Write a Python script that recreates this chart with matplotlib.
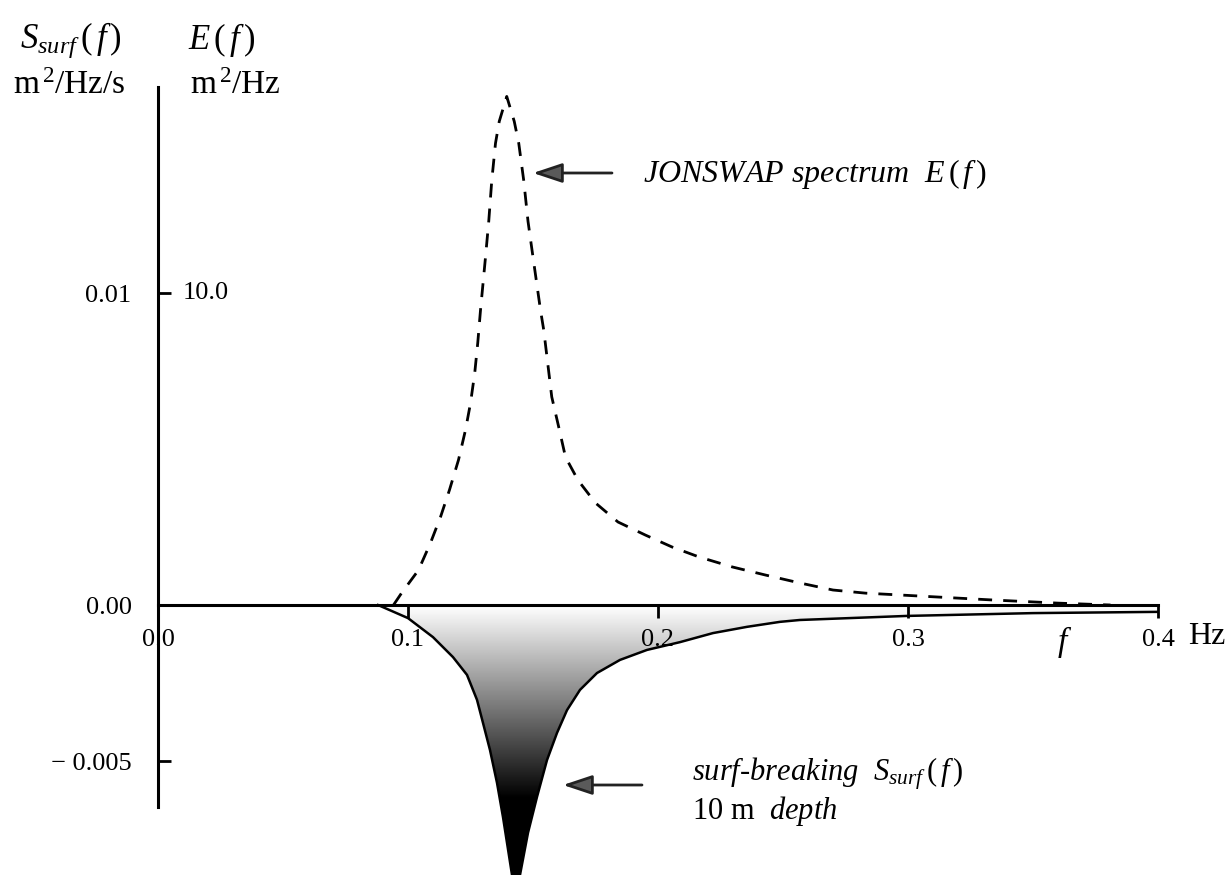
import numpy as np
import matplotlib.pyplot as plt
from matplotlib.patches import Polygon

plt.rcParams['font.family'] = ['Liberation Serif', 'DejaVu Serif']
plt.rcParams['mathtext.fontset'] = 'custom'
plt.rcParams['mathtext.rm'] = 'Liberation Serif'
plt.rcParams['mathtext.it'] = 'Liberation Serif:italic'

# JONSWAP spectrum E(f) in m^2/Hz
f_jon = [0.0942, 0.0974, 0.1042, 0.109, 0.113, 0.1166, 0.1202, 0.123, 0.125,
         0.1267, 0.1279, 0.129, 0.131, 0.1323, 0.1335, 0.135, 0.1365, 0.1395,
         0.1425, 0.1443, 0.1463, 0.148, 0.150, 0.153, 0.1543, 0.1575, 0.1603,
         0.163, 0.168, 0.175, 0.184, 0.195, 0.2056, 0.2164, 0.2297, 0.243,
         0.2565, 0.27, 0.283, 0.297, 0.334, 0.36, 0.381]
E_jon = [0.0, 0.38, 1.12, 1.99, 2.82, 3.69, 4.65, 5.61, 6.47,
         7.44, 8.40, 9.45, 11.15, 12.3, 13.6, 14.8, 15.5, 16.3,
         15.5, 14.8, 13.6, 12.3, 11.15, 9.45, 8.81, 6.67, 5.7,
         4.74, 4.0, 3.27, 2.66, 2.24, 1.86, 1.54, 1.22, 0.96,
         0.71, 0.48, 0.38, 0.32, 0.16, 0.06, 0.0]

# surf-breaking source term S_surf(f) in m^2/Hz/s, 10 m depth
f_surf = [0.088, 0.100, 0.110, 0.118, 0.1236, 0.1276, 0.130, 0.1328, 0.1356,
          0.138, 0.1416, 0.1432, 0.1448, 0.148, 0.1516, 0.1556, 0.1596, 0.1636,
          0.1688, 0.1756, 0.1848, 0.1956, 0.2088, 0.222, 0.2356, 0.2488,
          0.2568, 0.2996, 0.35, 0.4]
S_surf = [0.0, -0.00042, -0.00103, -0.00167, -0.00224, -0.00304, -0.00378,
          -0.00465, -0.0057, -0.0068, -0.00865, -0.0095, -0.00865, -0.0073,
          -0.00615, -0.00497, -0.0041, -0.00337, -0.00272, -0.00218, -0.00176,
          -0.00144, -0.00119, -0.0009, -0.0007, -0.00054, -0.00048, -0.00035,
          -0.00026, -0.00022]

xticks = [0.0, 0.1, 0.2, 0.3, 0.4]
xticklabels = ['0.0', '0.1', '0.2', '0.3', '0.4']
yticks = [-0.005, 0.0, 0.01]
yticklabels = ['\u2212 0.005', '0.00', '0.01']
E_tick = 10.0

W, H = 1229, 875
fig = plt.figure(figsize=(W / 100, H / 100), dpi=100)
ax = fig.add_axes([158 / W, 0, 1000 / W, (H - 87) / H])
ylo = -(H - 605) / 31200
yhi = (605 - 87) / 31200

# gradient fill under the surf curve
verts = [(f_surf[0], 0.0)] + list(zip(f_surf, S_surf)) + [(f_surf[-1], 0.0)]
patch = Polygon(verts, closed=True, facecolor='none', edgecolor='none')
ax.add_patch(patch)
depth = np.linspace(0, 1, 400)[:, None]
grad = np.clip(1 - depth * (0.0105 / 0.0062), 0, 1) * np.ones((1, 10))
im = ax.imshow(grad, extent=[0.08, 0.41, -0.0105, 0], aspect='auto',
               cmap='gray', vmin=0, vmax=1, zorder=1, interpolation='bilinear')
im.set_clip_path(patch)
ax.plot(f_surf, S_surf, color='black', lw=1.8, zorder=3)

ax.set_xlim(0, 0.4)
ax.set_ylim(ylo, yhi)
ax.spines['top'].set_visible(False)
ax.spines['right'].set_visible(False)
ax.spines['left'].set_bounds(-(807 - 605) / 31200, yhi)
ax.spines['bottom'].set_position(('data', 0))
ax.spines['bottom'].set_bounds(0, 0.4)
ax.spines['left'].set_linewidth(2.2)
ax.spines['bottom'].set_linewidth(2.2)
ax.set_xticks(xticks)
ax.set_xticklabels(xticklabels)
ax.set_yticks(yticks)
ax.set_yticklabels(yticklabels)
ax.tick_params(axis='x', direction='out', length=9.5, width=2, pad=8, labelsize=19)
ax.tick_params(axis='y', direction='in', length=9.5, width=2, pad=19, labelsize=19)
ax.patch.set_visible(False)

# E(f) on its own scale: 10.0 m^2/Hz lines up with 0.01
ax2 = ax.twinx()
ax2.set_ylim(ylo * 1000, yhi * 1000)
ax2.set_xlim(0, 0.4)
ax2.axis('off')
ax2.plot(f_jon, E_jon, color='black', lw=2, linestyle=(0, (5, 4)))
ax2.annotate(f'{E_tick:.1f}', xy=(0, E_tick), xycoords=ax2.get_yaxis_transform(),
             xytext=(18, 0), textcoords='offset points', va='center', ha='left',
             fontsize=19)

# headers
fig.text(20 / W, 1 - 40 / H, r'$S_{surf}\,(\,f\,)$', fontsize=25, va='center')
fig.text(188 / W, 1 - 40 / H, r'$E\,(\,f\,)$', fontsize=25, va='center')
fig.text(13 / W, 1 - 86 / H, r'm$^{\,2}$/Hz/s', fontsize=24, va='center')
fig.text(190 / W, 1 - 86 / H, r'm$^{\,2}$/Hz', fontsize=24, va='center')

# x-axis name
fig.text(1062 / W, 1 - 642 / H, 'f', style='italic', fontsize=24,
         va='center', ha='center')
fig.text(1188 / W, 1 - 637 / H, 'Hz', fontsize=23, va='center')

# annotations
arrow = dict(arrowstyle='-|>,head_length=0.9,head_width=0.3', fc='#5a5a5a',
             ec='#222222', lw=2, shrinkA=0, shrinkB=0, mutation_scale=20)
ax.annotate('', xy=(533, H - 173), xycoords='figure pixels',
            xytext=(612, H - 173), textcoords='figure pixels', arrowprops=arrow)
ax.annotate('', xy=(563, H - 785), xycoords='figure pixels',
            xytext=(642, H - 785), textcoords='figure pixels', arrowprops=arrow)
fig.text(643 / W, 1 - 174 / H, r'JONSWAP spectrum  $E\,(\,f\,)$', style='italic',
         fontsize=23, va='center')
fig.text(692 / W, 1 - 781 / H, r'surf-breaking  $S_{surf}\,(\,f\,)$', style='italic',
         fontsize=22, va='baseline')
fig.text(692 / W, 1 - 819 / H, r'10 m  $depth$', fontsize=22, va='baseline')

fig.savefig('out.png', dpi=100)
